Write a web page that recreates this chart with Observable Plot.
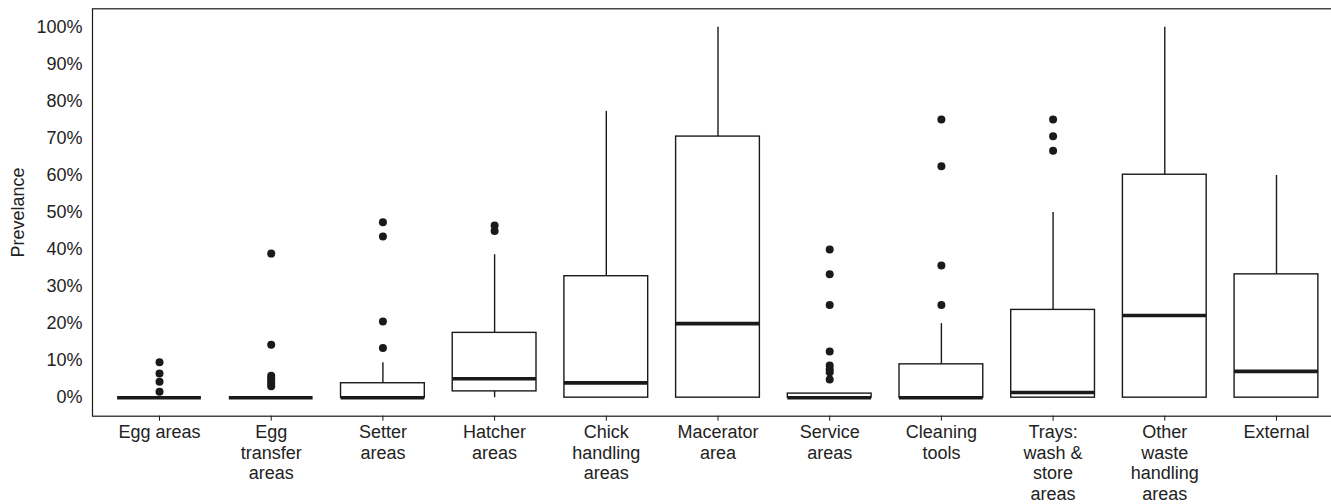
<!DOCTYPE html>
<html>
<head>
<meta charset="utf-8">
<script src="https://cdn.jsdelivr.net/npm/d3@7"></script>
<script src="https://cdn.jsdelivr.net/npm/@observablehq/plot@0.6"></script>
<style>
  html, body { margin: 0; padding: 0; background: #fff; }
  #chart svg { display: block; }
</style>
</head>
<body>
<div id="chart"></div>
<script>
// Categories and their (multi-line) tick labels
const categories = ["Egg areas", "Egg transfer areas", "Setter areas", "Hatcher areas",
  "Chick handling areas", "Macerator area", "Service areas", "Cleaning tools",
  "Trays: wash & store areas", "Other waste handling areas", "External"];
const tickLabels = ["Egg areas", "Egg\ntransfer\nareas", "Setter\nareas", "Hatcher\nareas",
  "Chick\nhandling\nareas", "Macerator\narea", "Service\nareas", "Cleaning\ntools",
  "Trays:\nwash &\nstore\nareas", "Other\nwaste\nhandling\nareas", "External"];

// Box statistics (prevalence, %)
const whiskerLow = [0, 0, 0, 0, 0, 0, 0, 0, 0, 0, 0];
const q1         = [0, 0, 0, 1.7, 0, 0, 0, 0, 0, 0, 0];
const median     = [0, 0, 0, 5.1, 4.0, 20.0, 0, 0, 1.4, 22.2, 7.1];
const q3         = [0, 0, 3.9, 17.5, 32.8, 70.5, 1.1, 9.0, 23.7, 60.2, 33.3];
const whiskerHigh= [0, 0, 9.4, 38.6, 77.3, 100, 1.1, 20.0, 50.0, 100, 60.0];

// Outliers per category
const outliers = [
  [9.6, 6.5, 4.3, 1.6],
  [38.9, 14.3, 5.9, 5.2, 4.5, 3.8, 3.1],
  [47.4, 43.5, 20.6, 13.4],
  [46.5, 45.0],
  [],
  [],
  [40.0, 33.3, 25.0, 12.5, 8.7, 7.7, 6.9, 4.9],
  [75.1, 62.5, 35.7, 25.0],
  [75.1, 70.6, 66.7],
  [],
  []
];

const yTicks = [0, 10, 20, 30, 40, 50, 60, 70, 80, 90, 100];

const boxes = categories.map((c, i) => ({
  cat: c, lo: whiskerLow[i], q1: q1[i], med: median[i], q3: q3[i], hi: whiskerHigh[i]
}));
const pts = categories.flatMap((c, i) => outliers[i].map(v => ({cat: c, v})));
const labelOf = new Map(categories.map((c, i) => [c, tickLabels[i]]));

const ink = "#1a1a1a";
const plot = Plot.plot({
  width: 1331,
  height: 504,
  marginLeft: 92,
  marginRight: -12,
  marginTop: 8.3,
  marginBottom: 88.3,
  style: {fontFamily: "'Liberation Sans', Arial, sans-serif", fontSize: "18px", color: "#222", background: "#fff"},
  x: {type: "band", domain: categories, paddingInner: 0.25, paddingOuter: 0.225, round: false, label: null},
  y: {domain: [-5, 105], label: null},
  marks: [
    Plot.frame({stroke: ink, strokeWidth: 1.2}),
    // whiskers
    Plot.ruleX(boxes, {x: "cat", y1: "q3", y2: "hi", stroke: ink, strokeWidth: 1.4}),
    Plot.ruleX(boxes, {x: "cat", y1: "lo", y2: "q1", stroke: ink, strokeWidth: 1.4}),
    // boxes
    Plot.barY(boxes, {x: "cat", y1: "q1", y2: "q3", fill: "white", stroke: ink, strokeWidth: 1.4}),
    // medians
    Plot.tickY(boxes, {x: "cat", y: "med", stroke: ink, strokeWidth: 3.6}),
    // outliers
    Plot.dot(pts, {x: "cat", y: "v", r: 4, fill: ink, stroke: "none"}),
    Plot.axisY({ticks: yTicks, tickSize: 0, tickPadding: 10, tickFormat: d => d + "%", label: null}),
    Plot.axisX({tickSize: 5, tickPadding: 2, tickFormat: d => labelOf.get(d), lineHeight: 1.15, label: null, stroke: ink}),
    Plot.text(["Prevelance"], {frameAnchor: "left", textAnchor: "middle", rotate: -90, dx: -74, fill: "#222", fontSize: 18})
  ]
});
document.getElementById("chart").appendChild(plot);
</script>
</body>
</html>
